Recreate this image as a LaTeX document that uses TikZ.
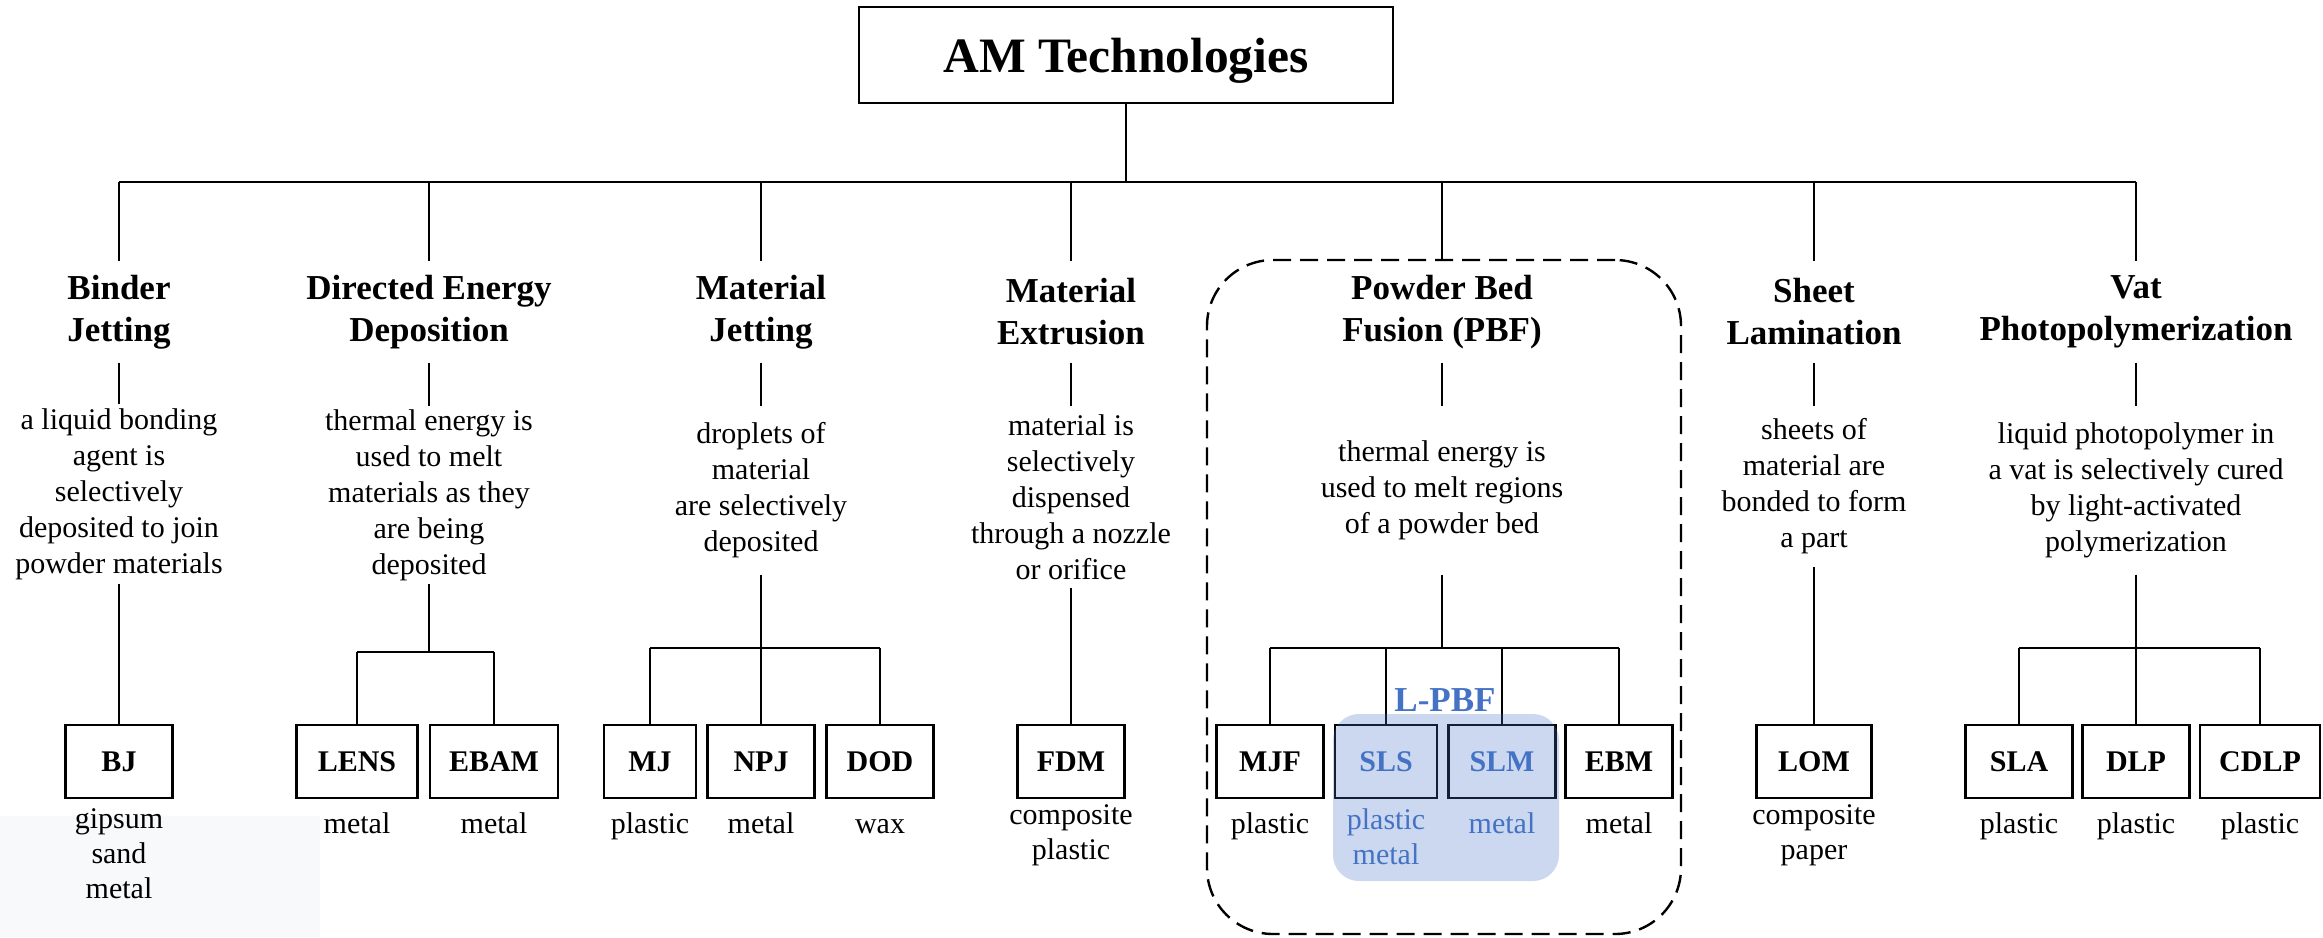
\documentclass[tikz,border=0pt]{standalone}
\usepackage{fontspec}
\setmainfont{Liberation Serif}[BoldFont={Liberation Serif Bold}]
\usetikzlibrary{positioning}

\definecolor{lpbfblue}{HTML}{4472C4}
\definecolor{markgray}{HTML}{F8F9FB}
\newcommand{\titlefont}{\fontsize{49.5}{58}\selectfont\bfseries}
\newcommand{\catfont}{\fontsize{35}{42}\selectfont\bfseries}
\newcommand{\descfont}{\fontsize{30}{36}\selectfont}
\newcommand{\leaffont}{\fontsize{30}{36}\selectfont\bfseries}
\newcommand{\matfont}{\fontsize{30}{35}\selectfont}

\begin{document}
\begin{tikzpicture}[x=1pt,y=-1pt,line width=1.3pt,
  titlebox/.style={draw,line width=2.5pt,minimum width=534pt,minimum height=96pt,text depth=0pt,font=\titlefont},
  cat/.style={align=center,font=\catfont,minimum height=100pt,inner sep=0pt},
  desc/.style={align=center,font=\descfont,inner sep=0pt},
  leaf/.style={draw,line width=2.6pt,minimum width=107pt,minimum height=73pt,inner sep=0pt,font=\leaffont},
  mat/.style={align=center,font=\matfont,inner sep=0pt,execute at begin node=\strut},
  trunk/.style={line width=2pt},
  pbfframe/.style={draw,line width=2.4pt,dash pattern=on 18pt off 9pt,rounded corners=66pt,minimum width=474pt,minimum height=674pt}]
\useasboundingbox (0,0) rectangle (2323,937);
\fill[markgray] (0,816) rectangle (320,937);

% root
\node[titlebox] (am) at (1126,55) {AM Technologies};
\coordinate (bus) at (1126,182);

% process categories
\node[cat] (bjet) at (119,312) {Binder\\Jetting};
\node[cat] (ded) at (429,312) {Directed Energy\\Deposition};
\node[cat] (mjet) at (761,312) {Material\\Jetting};
\node[cat] (mext) at (1071,312) {Material\\Extrusion};
\node[cat] (pbf) at (1442,312) {Powder Bed\\Fusion (PBF)};
\node[cat] (shl) at (1814,312) {Sheet\\Lamination};
\node[cat] (vat) at (2136,312) {Vat\\Photopolymerization};
\node[pbfframe] (pbfbox) at (1444,597) {};

% descriptions
\node[desc,minimum height=178pt] (bjd) at (119,494) {a liquid bonding\\agent is\\selectively\\deposited to join\\powder materials};
\node[desc,minimum height=176pt] (dedd) at (429,495) {thermal energy is\\used to melt\\materials as they\\are being\\deposited};
\node[desc,minimum height=167pt] (mjetd) at (761,490.5) {droplets of\\material\\are selectively\\deposited};
\node[desc,minimum height=180pt] (mextd) at (1071,497) {material is\\selectively\\dispensed\\through a nozzle\\or orifice};
\node[desc,minimum height=167pt] (pbfd) at (1442,490.5) {thermal energy is\\used to melt regions\\of a powder bed};
\node[desc,minimum height=159pt] (shld) at (1814,486.5) {sheets of\\material are\\bonded to form\\a part};
\node[desc,minimum height=167pt] (vatd) at (2136,490.5) {liquid photopolymer in\\a vat is selectively cured\\by light-activated\\polymerization};

% technologies
\node[leaf] (bj) at (119,761.5) {BJ};
\node[leaf,minimum width=121pt] (lens) at (357,761.5) {LENS};
\node[leaf,minimum width=128pt] (ebam) at (494,761.5) {EBAM};
\node[leaf,minimum width=92pt] (mj) at (650,761.5) {MJ};
\node[leaf] (npj) at (761,761.5) {NPJ};
\node[leaf] (dod) at (880,761.5) {DOD};
\node[leaf] (fdm) at (1071,761.5) {FDM};
\node[leaf] (mjf) at (1270,761.5) {MJF};
\node[leaf,minimum width=102pt,text=lpbfblue] (sls) at (1386,761.5) {SLS};
\node[leaf,text=lpbfblue] (slm) at (1502,761.5) {SLM};
\node[leaf] (ebm) at (1619,761.5) {EBM};
\node[leaf,minimum width=115pt] (lom) at (1814,761.5) {LOM};
\node[leaf] (sla) at (2019,761.5) {SLA};
\node[leaf] (dlp) at (2136,761.5) {DLP};
\node[leaf,minimum width=120pt] (cdlp) at (2260,761.5) {CDLP};
\node[font=\catfont,text=lpbfblue,inner sep=0pt] (lpbf) at (1445,700) {L-PBF};

% materials
\node[mat,below=9pt of bj] (bjm) {gipsum\\sand\\metal};
\node[mat,below=9pt of lens] (lensm) {metal};
\node[mat,below=9pt of ebam] (ebamm) {metal};
\node[mat,below=9pt of mj] (mjm) {plastic};
\node[mat,below=9pt of npj] (npjm) {metal};
\node[mat,below=9pt of dod] (dodm) {wax};
\node[mat,below=5pt of fdm] (fdmm) {composite\\plastic};
\node[mat,below=9pt of mjf] (mjfm) {plastic};
\node[mat,below=9pt of sls,text=lpbfblue] (slsm) {plastic\\metal};
\node[mat,below=9pt of slm,text=lpbfblue] (slmm) {metal};
\node[mat,below=9pt of ebm] (ebmm) {metal};
\node[mat,below=5pt of lom] (lomm) {composite\\paper};
\node[mat,below=9pt of sla] (slam) {plastic};
\node[mat,below=9pt of dlp] (dlpm) {plastic};
\node[mat,below=9pt of cdlp] (cdlpm) {plastic};

% tree lines
\draw[trunk] (am.south) -- (bus);
\draw[trunk] (bjet.north |- bus) -- (vat.north |- bus);
\draw (bjet.north |- bus) -- (bjet.north);
\draw (ded.north |- bus) -- (ded.north);
\draw (mjet.north |- bus) -- (mjet.north);
\draw (mext.north |- bus) -- (mext.north);
\draw (pbf.north |- bus) -- (pbf.north |- pbfbox.north);
\draw (shl.north |- bus) -- (shl.north);
\draw (vat.north |- bus) -- (vat.north);

\draw (bjet.south) -- (bjd.north);
\draw (ded.south) -- (dedd.north);
\draw (mjet.south) -- (mjetd.north);
\draw (mext.south) -- (mextd.north);
\draw (pbf.south) -- (pbfd.north);
\draw (shl.south) -- (shld.north);
\draw (vat.south) -- (vatd.north);

\coordinate (dedj) at (429,652);
\coordinate (mjetj) at (761,648);
\coordinate (pbfj) at (1442,648);
\coordinate (vatj) at (2136,648);

\draw (bjd.south) -- (bj.north);
\draw[trunk] (dedd.south) -- (dedj);
\draw[trunk] (lens.north |- dedj) -- (ebam.north |- dedj);
\draw (lens.north) -- (lens.north |- dedj);
\draw (ebam.north) -- (ebam.north |- dedj);
\draw[trunk] (mjetd.south) -- (mjetj);
\draw (mjetj) -- (npj.north);
\draw[trunk] (mj.north |- mjetj) -- (dod.north |- mjetj);
\draw (mj.north) -- (mj.north |- mjetj);
\draw (dod.north) -- (dod.north |- mjetj);
\draw (mextd.south) -- (fdm.north);
\draw[trunk] (pbfd.south) -- (pbfj);
\draw[trunk] (mjf.north |- pbfj) -- (ebm.north |- pbfj);
\draw (mjf.north) -- (mjf.north |- pbfj);
\draw (sls.north) -- (sls.north |- pbfj);
\draw (slm.north) -- (slm.north |- pbfj);
\draw (ebm.north) -- (ebm.north |- pbfj);
\draw (shld.south) -- (lom.north);
\draw[trunk] (vatd.south) -- (vatj);
\draw (vatj) -- (dlp.north);
\draw[trunk] (sla.north |- vatj) -- (cdlp.north |- vatj);
\draw (sla.north) -- (sla.north |- vatj);
\draw (cdlp.north) -- (cdlp.north |- vatj);

% laser powder bed fusion group
\fill[lpbfblue,fill opacity=0.28,rounded corners=26pt] (1333,714) rectangle (1559,881);
\end{tikzpicture}
\end{document}
